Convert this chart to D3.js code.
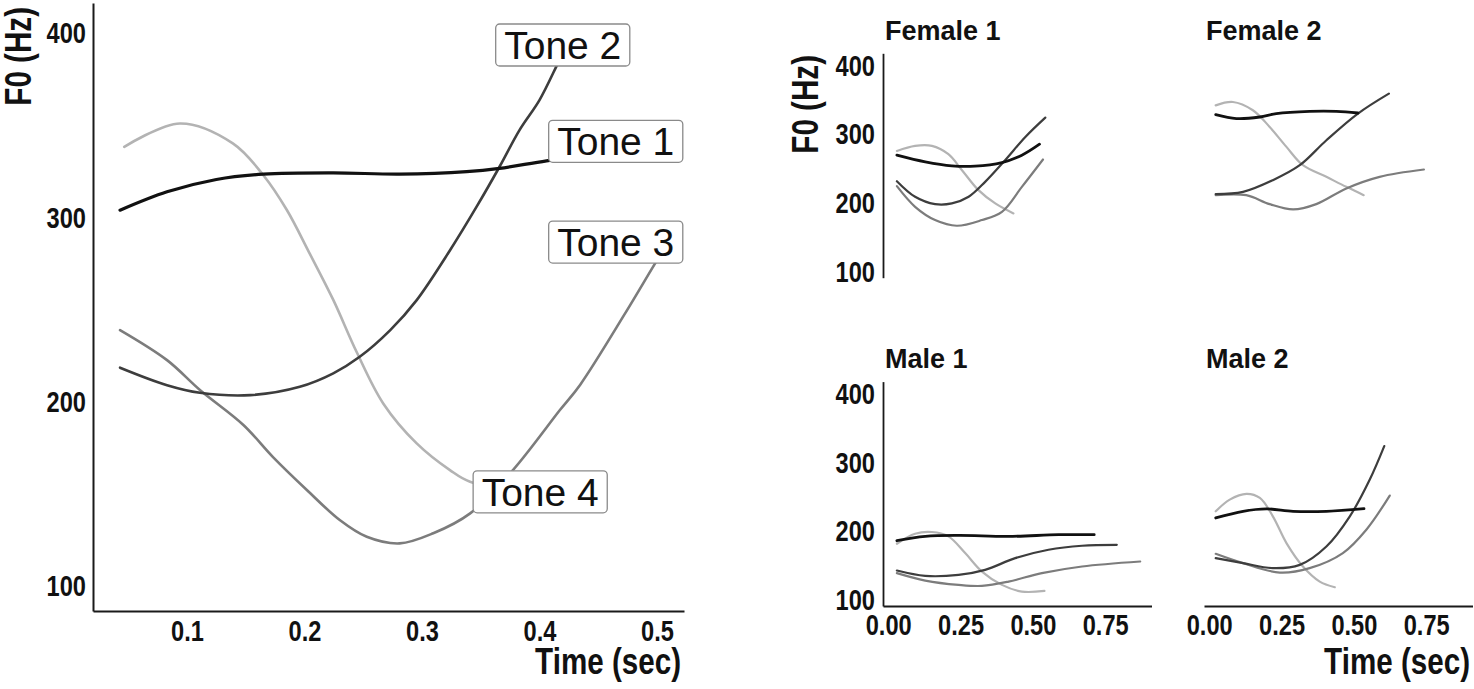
<!DOCTYPE html>
<html>
<head>
<meta charset="utf-8">
<script src="https://cdn.jsdelivr.net/npm/d3@7"></script>
<style>
body { margin: 0; background: #fff; }
.narrow { font-family: "Liberation Sans", Arial, sans-serif; font-weight: bold; fill: #111; }
.title { font-family: "Liberation Sans", Arial, sans-serif; font-weight: bold; fill: #111; }
.tone-label { font-family: "Liberation Sans", Arial, sans-serif; fill: #111; }
</style>
</head>
<body>
<script>
// ---- data: [time (sec), F0 (Hz)] ----
const tones = ["Tone 1", "Tone 2", "Tone 3", "Tone 4"]

const mainTone1 = [[0.043,304],[0.083,314],[0.125,320.7],[0.165,323.6],[0.2245,324.3],[0.281,323.6],[0.338,324.9],[0.366,326.7],[0.406,330.8],[0.455,335]]
const mainTone2 = [[0.043,218.5],[0.083,209],[0.111,204.9],[0.154,203.6],[0.196,208.1],[0.2245,215.4],[0.247,224.4],[0.273,238.9],[0.2955,255.2],[0.324,282.4],[0.3465,305.9],[0.366,327.6],[0.383,347.5],[0.4,363.8],[0.4146,382.4],[0.4217,392]]
const mainTone3 = [[0.043,238.9],[0.083,222.6],[0.111,206.4],[0.148,187.4],[0.173,170.1],[0.202,152.1],[0.23,135.8],[0.253,126.7],[0.281,123.1],[0.3096,128.6],[0.341,139.4],[0.3774,162.9],[0.4174,195.5],[0.4347,209.3],[0.473,248.1],[0.4983,275],[0.509,286]]
const mainTone4 = [[0.0466,338.4],[0.094,351.1],[0.139,340.3],[0.165,323],[0.185,304.1],[0.204,281],[0.2245,255.3],[0.2444,227],[0.267,199.1],[0.2955,177.4],[0.3238,162.9],[0.3409,156.6],[0.387,152.7]]

// where the tone labels sit (time, F0)
const labelTime = [0.4649, 0.4198, 0.4649, 0.4006]
const labelF0 = [341.4, 393.7, 286.7, 151.1]

const speakers = ["Female 1", "Female 2", "Male 1", "Male 2"]

const female1Tone1 = [[0.03,269.9],[0.128,260.1],[0.22,254.3],[0.3,253.9],[0.393,259.2],[0.462,269.9],[0.523,285.9]]
const female1Tone2 = [[0.03,232],[0.093,209.2],[0.162,198.5],[0.22,199.5],[0.278,209.2],[0.335,231],[0.404,262.6],[0.474,296.5],[0.543,324.7]]
const female1Tone3 = [[0.03,224.7],[0.093,194.6],[0.162,175.3],[0.237,167],[0.324,175.3],[0.393,187.3],[0.462,223.7],[0.535,263.6]]
const female1Tone4 = [[0.03,276.1],[0.093,283.4],[0.151,283.4],[0.208,271.3],[0.255,248],[0.312,218.9],[0.37,199.5],[0.433,185]]

const female2Tone1 = [[0.0225,329.1],[0.094,323.3],[0.175,325.6],[0.232,330.6],[0.347,333.9],[0.44,333.9],[0.514,331.4]]
const female2Tone2 = [[0.0225,213.1],[0.117,216.4],[0.22,233.5],[0.313,255.3],[0.405,291.7],[0.514,330.6],[0.621,359.7]]
const female2Tone3 = [[0.0225,211.6],[0.128,211.6],[0.209,198.5],[0.29,190.8],[0.37,198.5],[0.474,221.4],[0.589,238.3],[0.742,249]]
const female2Tone4 = [[0.0225,342.6],[0.082,347.5],[0.151,335.4],[0.209,311.1],[0.267,282],[0.324,255.3],[0.405,238.3],[0.474,223.7],[0.534,211.6]]

const male1Tone1 = [[0.03,186.4],[0.128,192.7],[0.243,194.1],[0.416,192.7],[0.589,195.2],[0.712,195.2]]
const male1Tone2 = [[0.03,142.9],[0.128,135.1],[0.243,136.6],[0.335,143.9],[0.439,161],[0.554,173.2],[0.67,179.1],[0.79,180.5]]
const male1Tone3 = [[0.03,139.1],[0.128,128.3],[0.243,122],[0.324,120.5],[0.416,126.8],[0.531,139.1],[0.67,148.8],[0.871,156.1]]
const male1Tone4 = [[0.03,182],[0.093,196.6],[0.151,199.1],[0.208,192.7],[0.266,168.4],[0.324,141.4],[0.393,122],[0.462,112.2],[0.54,113.2]]

const male2Tone1 = [[0.0225,219.6],[0.117,229.3],[0.198,232.8],[0.29,229.3],[0.405,229.3],[0.535,233.2]]
const male2Tone2 = [[0.0225,161],[0.117,153.7],[0.22,146.4],[0.313,151.2],[0.405,178],[0.486,222],[0.555,275.7],[0.605,324.4]]
const male2Tone3 = [[0.0225,167.3],[0.117,153.7],[0.244,140],[0.347,146.4],[0.462,168.4],[0.543,202.5],[0.624,252.3]]
const male2Tone4 = [[0.0225,229.3],[0.071,246.4],[0.129,254.8],[0.175,248.9],[0.22,222],[0.267,183],[0.324,148.8],[0.382,126.8],[0.434,118.6]]

const mainXTicks = [0.1, 0.2, 0.3, 0.4, 0.5]
const f0Ticks = [100, 200, 300, 400]
const smallXTicks = [0, 0.25, 0.5, 0.75]

// ---- styles ----
const toneColor = ["#111111", "#3d3d3d", "#7c7c7c", "#b3b3b3"]
const mainWidth = [3.2, 2.6, 2.6, 2.6]
const smallWidth = [2.8, 2.2, 2.2, 2.2]
const drawOrder = [3, 2, 1, 0]

const svg = d3.select("body").append("svg")
    .attr("width", 1474)
    .attr("height", 689)

// no condensed font installed: squeeze bold text to a narrow look
const squeeze = (sel) => {
    sel.each(function () {
        const len = this.getComputedTextLength()
        d3.select(this).attr("textLength", len * 0.8).attr("lengthAdjust", "spacingAndGlyphs")
    })
}

const styleAxis = (g) => {
    g.select(".domain").attr("stroke", "#1a1a1a").attr("stroke-width", 2)
    g.selectAll(".tick line").remove()
    g.selectAll(".tick text").attr("class", "narrow").attr("font-size", 29.5).attr("fill", "#111").call(squeeze)
}

// ---- main panel ----
const x = d3.scaleLinear().domain([0.02, 0.523]).range([93, 684])
const y = d3.scaleLinear().domain([86.4, 416.5]).range([611, 3])

const mainLine = d3.line()
    .x(d => x(d[0]))
    .y(d => y(d[1]))
    .curve(d3.curveCatmullRom.alpha(0.5))

const mainSeries = [mainTone1, mainTone2, mainTone3, mainTone4]

svg.append("g")
    .attr("transform", "translate(93,0)")
    .call(d3.axisLeft(y).tickValues(f0Ticks).tickSize(0).tickPadding(7).tickSizeOuter(0))
    .call(styleAxis)

svg.append("g")
    .attr("transform", "translate(0,611)")
    .call(d3.axisBottom(x).tickValues(mainXTicks).tickFormat(d3.format(".1f")).tickSize(0).tickPadding(9).tickSizeOuter(0))
    .call(styleAxis)

svg.append("g")
    .selectAll("path")
    .data(drawOrder)
    .join("path")
    .attr("d", i => mainLine(mainSeries[i]))
    .attr("fill", "none")
    .attr("stroke", i => toneColor[i])
    .attr("stroke-width", i => mainWidth[i])
    .attr("stroke-linecap", "round")

// tone labels, drawn over the line ends
const labels = svg.append("g")
    .selectAll("g")
    .data(tones)
    .join("g")
    .attr("transform", (d, i) => `translate(${x(labelTime[i])},${y(labelF0[i])})`)

labels.append("rect")
    .attr("fill", "#fff")
    .attr("stroke", "#8a8a8a")
    .attr("stroke-width", 1.3)
    .attr("rx", 4)

labels.append("text")
    .attr("class", "tone-label")
    .attr("font-size", 39)
    .attr("text-anchor", "middle")
    .attr("y", 14)
    .text(d => d)

labels.each(function () {
    const g = d3.select(this)
    const w = g.select("text").node().getComputedTextLength() + 17
    g.select("rect").attr("x", -w / 2).attr("y", -21).attr("width", w).attr("height", 42)
})

svg.append("text")
    .attr("class", "narrow")
    .attr("font-size", 37)
    .attr("text-anchor", "end")
    .attr("transform", "translate(31,7) rotate(-90)")
    .text("F0 (Hz)")
    .call(squeeze)

svg.append("text")
    .attr("class", "narrow")
    .attr("font-size", 37)
    .attr("text-anchor", "end")
    .attr("x", 681)
    .attr("y", 674)
    .text("Time (sec)")
    .call(squeeze)

// ---- small panels per speaker ----
const colRange = [[883, 1151.5], [1204, 1472.5]]
const rowRange = [[277.7, 53.3], [606, 381.6]]
const titleBaseline = [40, 368.3]

const panels = [
    {speaker: speakers[0], col: 0, row: 0, series: [female1Tone1, female1Tone2, female1Tone3, female1Tone4], showY: true, showX: false},
    {speaker: speakers[1], col: 1, row: 0, series: [female2Tone1, female2Tone2, female2Tone3, female2Tone4], showY: false, showX: false},
    {speaker: speakers[2], col: 0, row: 1, series: [male1Tone1, male1Tone2, male1Tone3, male1Tone4], showY: true, showX: true},
    {speaker: speakers[3], col: 1, row: 1, series: [male2Tone1, male2Tone2, male2Tone3, male2Tone4], showY: false, showX: true},
]

panels.forEach(p => {
    const px = d3.scaleLinear().domain([-0.018, 0.91]).range(colRange[p.col])
    const py = d3.scaleLinear().domain([91.2, 418.5]).range(rowRange[p.row])
    const line = d3.line()
        .x(d => px(d[0]))
        .y(d => py(d[1]))
        .curve(d3.curveCatmullRom.alpha(0.5))
    const g = svg.append("g")

    if (p.showY) {
        g.append("g")
            .attr("transform", `translate(${colRange[p.col][0]},0)`)
            .call(d3.axisLeft(py).tickValues(f0Ticks).tickSize(0).tickPadding(8).tickSizeOuter(0))
            .call(styleAxis)
            .call(a => a.select(".domain").attr("stroke-width", 1.8))
    }
    if (p.showX) {
        g.append("g")
            .attr("transform", `translate(0,${rowRange[p.row][0]})`)
            .call(d3.axisBottom(px).tickValues(smallXTicks).tickFormat(d3.format(".2f")).tickSize(0).tickPadding(8).tickSizeOuter(0))
            .call(styleAxis)
            .call(a => a.select(".domain").attr("stroke-width", 1.8))
    }

    g.append("g")
        .selectAll("path")
        .data(drawOrder)
        .join("path")
        .attr("d", i => line(p.series[i]))
        .attr("fill", "none")
        .attr("stroke", i => toneColor[i])
        .attr("stroke-width", i => smallWidth[i])
        .attr("stroke-linecap", "round")

    g.append("text")
        .attr("class", "title")
        .attr("font-size", 27)
        .attr("x", colRange[p.col][0] + 2)
        .attr("y", titleBaseline[p.row])
        .text(p.speaker)
})

svg.append("text")
    .attr("class", "narrow")
    .attr("font-size", 37)
    .attr("text-anchor", "end")
    .attr("transform", "translate(818,55) rotate(-90)")
    .text("F0 (Hz)")
    .call(squeeze)

svg.append("text")
    .attr("class", "narrow")
    .attr("font-size", 37)
    .attr("text-anchor", "end")
    .attr("x", 1470)
    .attr("y", 674)
    .text("Time (sec)")
    .call(squeeze)
</script>
</body>
</html>
